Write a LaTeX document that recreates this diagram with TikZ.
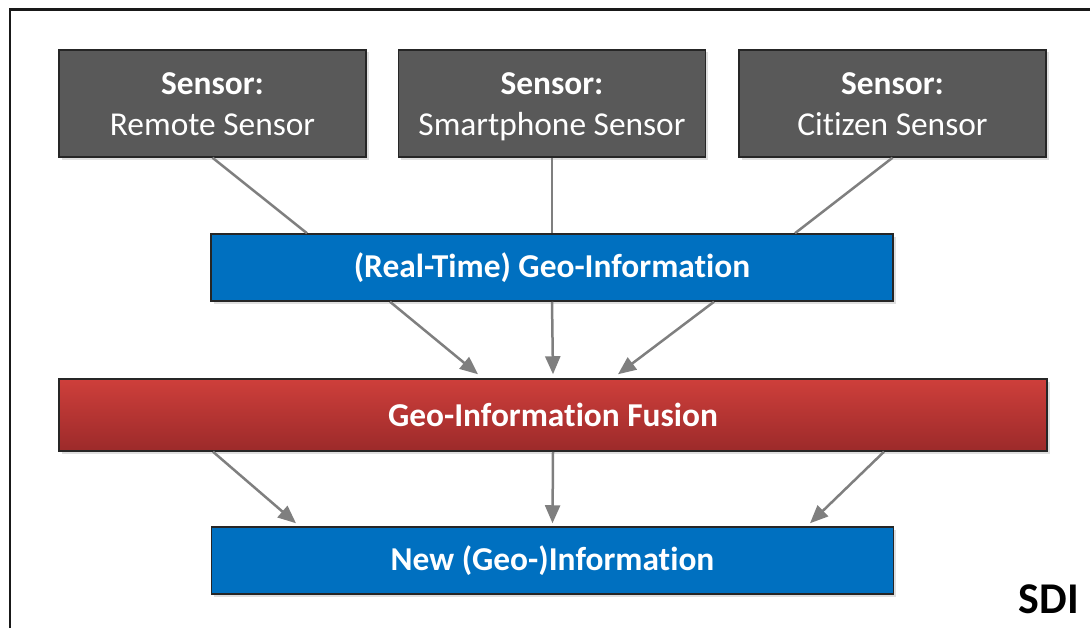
\documentclass[tikz,border=0pt]{standalone}
\usepackage{fontspec}
\setmainfont{Carlito}[Ligatures=NoCommon]
\usetikzlibrary{positioning,shapes,arrows.meta,shadows}

\definecolor{sensorgray}{HTML}{595959}
\definecolor{geoblue}{HTML}{0070C0}
\definecolor{fusiontop}{HTML}{CE3F3B}
\definecolor{fusionbot}{HTML}{9C2A2A}
\definecolor{linkgray}{HTML}{7F7F7F}

\begin{document}
\begin{tikzpicture}[
    box/.style={rectangle, draw=black!85, line width=0.03cm, text=white, align=center,
        drop shadow={opacity=0.25, shadow xshift=0.05cm, shadow yshift=-0.05cm}},
    sensorbox/.style={box, fill=sensorgray, minimum width=6.14cm, minimum height=2.14cm, font=\fontsize{19}{23}\selectfont},
    infobox/.style={box, fill=geoblue, minimum width=13.64cm, minimum height=1.34cm, font=\fontsize{19}{23}\selectfont\bfseries},
    fusionbox/.style={box, top color=fusiontop, bottom color=fusionbot, minimum width=19.76cm, minimum height=1.44cm, font=\fontsize{19}{23}\selectfont\bfseries},
    link/.style={linkgray, line width=0.05cm},
    flow/.style={link, -{Triangle[length=0.36cm, width=0.3cm]}}
]
        \useasboundingbox (0, 0) rectangle (21.8, -12.56);
        % frame (only top and left show)
        \draw[line width=0.06cm, black!90] (0.2, -12.56) -- (0.2, -0.2) -- (21.8, -0.2);

        % sensors
        \node[sensorbox] (remote) at (4.25, -2.07) {\textbf{Sensor:}\strut\\Remote Sensor\vphantom{p}};
        \node[sensorbox] (phone) at (11.04, -2.07) {\textbf{Sensor:}\strut\\Smartphone Sensor\vphantom{p}};
        \node[sensorbox] (citizen) at (17.85, -2.07) {\textbf{Sensor:}\strut\\Citizen Sensor\vphantom{p}};

        % information layers
        \node[infobox] (geo) at (11.04, -5.35) {(Real-Time) Geo-Information};
        \node[fusionbox] (fusion) at (11.06, -8.3) {Geo-Information Fusion};
        \node[infobox] (new) at (11.05, -11.21) {New (Geo-)Information};

        \node[font=\fontsize{25}{28}\selectfont\bfseries, anchor=south east] (sdi) at (21.7, -12.4) {SDI};

        % sensors -> geo-information
        \draw[link] (remote.south) -- ([xshift=-4.9cm]geo.north);
        \draw[link] (phone.south) -- (geo.north);
        \draw[link] (citizen.south) -- ([xshift=4.86cm]geo.north);

        % geo-information -> fusion
        \draw[flow] ([xshift=-3.24cm]geo.south) -- ([xshift=-1.5cm, yshift=0.08cm]fusion.north);
        \draw[flow] (geo.south) -- ([yshift=0.08cm]fusion.north);
        \draw[flow] ([xshift=3.24cm]geo.south) -- ([xshift=1.3cm, yshift=0.08cm]fusion.north);

        % fusion -> new information
        \draw[flow] ([xshift=-6.8cm]fusion.south) -- ([xshift=-5.13cm, yshift=0.06cm]new.north);
        \draw[flow] (fusion.south) -- ([yshift=0.06cm]new.north);
        \draw[flow] ([xshift=6.62cm]fusion.south) -- ([xshift=5.15cm, yshift=0.06cm]new.north);
\end{tikzpicture}
\end{document}
